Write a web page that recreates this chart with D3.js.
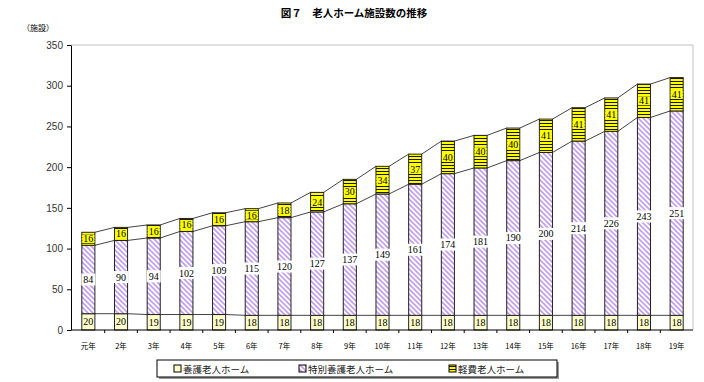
<!DOCTYPE html>
<html><head><meta charset="utf-8">
<script src="https://cdn.jsdelivr.net/npm/d3@7"></script>
<style>html,body{margin:0;padding:0;background:#fff;}svg{display:block;}</style>
</head><body>
<svg id="c" width="704" height="382"></svg>
<script>
const categories = ["元年","2年","3年","4年","5年","6年","7年","8年","9年","10年","11年","12年","13年","14年","15年","16年","17年","18年","19年"];
const yogo   = [20,20,19,19,19,18,18,18,18,18,18,18,18,18,18,18,18,18,18];
const tokuyo = [84,90,94,102,109,115,120,127,137,149,161,174,181,190,200,214,226,243,251];
const keihi  = [16,16,16,16,16,16,18,24,30,34,37,40,40,40,41,41,41,41,41];
const seriesNames = ["養護老人ホーム","特別養護老人ホーム","軽費老人ホーム"];
const yTicks = [0,50,100,150,200,250,300,350];
const title = "図７　老人ホーム施設数の推移";
const yUnit = "（施設）";

const svg = d3.select("#c");
const L = 71, R = 693, T = 45, B = 330;
const x = d3.scaleBand().domain(categories).range([L+1, R]).paddingInner(0.6).paddingOuter(0.3);
const y = d3.scaleLinear().domain([0,350]).range([B, T]);

const defs = svg.append("defs");
const hp = defs.append("pattern").attr("id","hatch").attr("patternUnits","userSpaceOnUse").attr("width",5).attr("height",5);
hp.append("rect").attr("width",5).attr("height",5).attr("fill","#fff");
hp.append("path").attr("d","M-1.25,3.75 L1.25,6.25 M0,0 L5,5 M3.75,-1.25 L6.25,1.25").attr("stroke","#c49cf2").attr("stroke-width",1.6);
const kp = defs.append("pattern").attr("id","hlines").attr("patternUnits","userSpaceOnUse").attr("width",4).attr("height",3);
kp.append("rect").attr("width",4).attr("height",3).attr("fill","#ffff00");
kp.append("line").attr("x1",0).attr("x2",4).attr("y1",0.5).attr("y2",0.5).attr("stroke","#000").attr("stroke-width",0.9);

// title
svg.append("text").attr("x",354).attr("y",17).attr("text-anchor","middle")
  .attr("font-family","Noto Sans CJK JP").attr("font-weight","bold").attr("font-size",10.5).text(title);
svg.append("text").attr("x",22).attr("y",31).attr("font-family","Noto Sans CJK JP").attr("font-size",8).text(yUnit);

// frame
svg.append("line").attr("x1",L).attr("x2",R).attr("y1",T).attr("y2",T).attr("stroke","#c0c0c0");
svg.append("line").attr("x1",R).attr("x2",R).attr("y1",T).attr("y2",B).attr("stroke","#c0c0c0");

// y axis
const yAxis = svg.append("g").attr("transform",`translate(${L},0)`)
  .call(d3.axisLeft(y).tickValues(yTicks).tickSize(4).tickSizeOuter(0));
yAxis.select(".domain").attr("stroke","#000");
yAxis.selectAll(".tick line").attr("stroke","#000");
yAxis.selectAll("text").attr("font-family","Liberation Sans").attr("font-size",10).attr("fill","#333").attr("x",-8);

// stacked data
const stacks = categories.map((c,i)=>{
  const a = yogo[i], b = a + tokuyo[i], t = b + keihi[i];
  return {c, segs:[[0,a,yogo[i]],[a,b,tokuyo[i]],[b,t,keihi[i]]]};
});
const fills = ["#ffffcc","url(#hatch)","url(#hlines)"];
const bw = x.bandwidth();

// series lines
const cums = [yogo.map((v,i)=>v), tokuyo.map((v,i)=>yogo[i]+v), keihi.map((v,i)=>yogo[i]+tokuyo[i]+v)];
cums.forEach((arr,k)=>{
  for(let i=0;i<arr.length-1;i++){
    svg.append("line")
      .attr("x1",x(categories[i])+bw).attr("y1",y(arr[i]))
      .attr("x2",x(categories[i+1])).attr("y2",y(arr[i+1]))
      .attr("stroke", "#444").attr("stroke-width",1);
  }
});

const g = svg.append("g");
stacks.forEach(s=>{
  s.segs.forEach((sg,k)=>{
    g.append("rect").attr("x",x(s.c)).attr("y",y(sg[1])).attr("width",bw).attr("height",y(sg[0])-y(sg[1]))
      .attr("fill",fills[k]).attr("stroke","#222").attr("stroke-width",1);
  });
});

// labels
stacks.forEach(s=>{
  s.segs.forEach((sg,k)=>{
    const cx = x(s.c)+bw/2, cy = (y(sg[0])+y(sg[1]))/2;
    const txt = String(sg[2]);
    const w = txt.length*5+2;
    if(k===1){
      g.append("rect").attr("x",cx-w/2-1).attr("y",cy-6).attr("width",w+2).attr("height",12).attr("fill","#fff");
    } else if(k===2){
      g.append("rect").attr("x",cx-w/2).attr("y",cy-4.5).attr("width",w).attr("height",9).attr("fill","#ffff00");
    }
    g.append("text").attr("x",cx).attr("y",cy+3.5).attr("text-anchor","middle")
      .attr("font-family","Liberation Serif").attr("font-size",10).attr("fill","#000").text(txt);
  });
});

// x axis
const xa = svg.append("g").attr("transform",`translate(0,${B})`);
xa.append("line").attr("x1",L).attr("x2",R).attr("stroke","#000");
categories.forEach((c,i)=>{
  if(i>0){
    const tx = (x(categories[i-1])+bw+x(c))/2;
    xa.append("line").attr("x1",tx).attr("x2",tx).attr("y1",0).attr("y2",3).attr("stroke","#000");
  }
  xa.append("text").attr("x",x(c)+bw/2).attr("y",19).attr("text-anchor","middle")
    .attr("font-family","Noto Sans CJK JP").attr("font-size",7.5).attr("fill","#000").text(c);
});

// legend
const lg = svg.append("g");
lg.append("rect").attr("x",159).attr("y",362).attr("width",400).attr("height",17).attr("fill","#999");
lg.append("rect").attr("x",157).attr("y",360).attr("width",400).attr("height",17).attr("fill","#fff").attr("stroke","#000");
const lx = [183, 308, 458];
const lfill = ["#ffffcc","url(#hatch)","url(#hlines)"];
seriesNames.forEach((n,k)=>{
  lg.append("rect").attr("x",lx[k]-9).attr("y",365).attr("width",7).attr("height",7).attr("fill",lfill[k]).attr("stroke","#000");
  lg.append("text").attr("x",lx[k]).attr("y",372.5).attr("font-family","Noto Sans CJK JP").attr("font-size",9.5).attr("fill","#222").text(n);
});
</script>
</body></html>
